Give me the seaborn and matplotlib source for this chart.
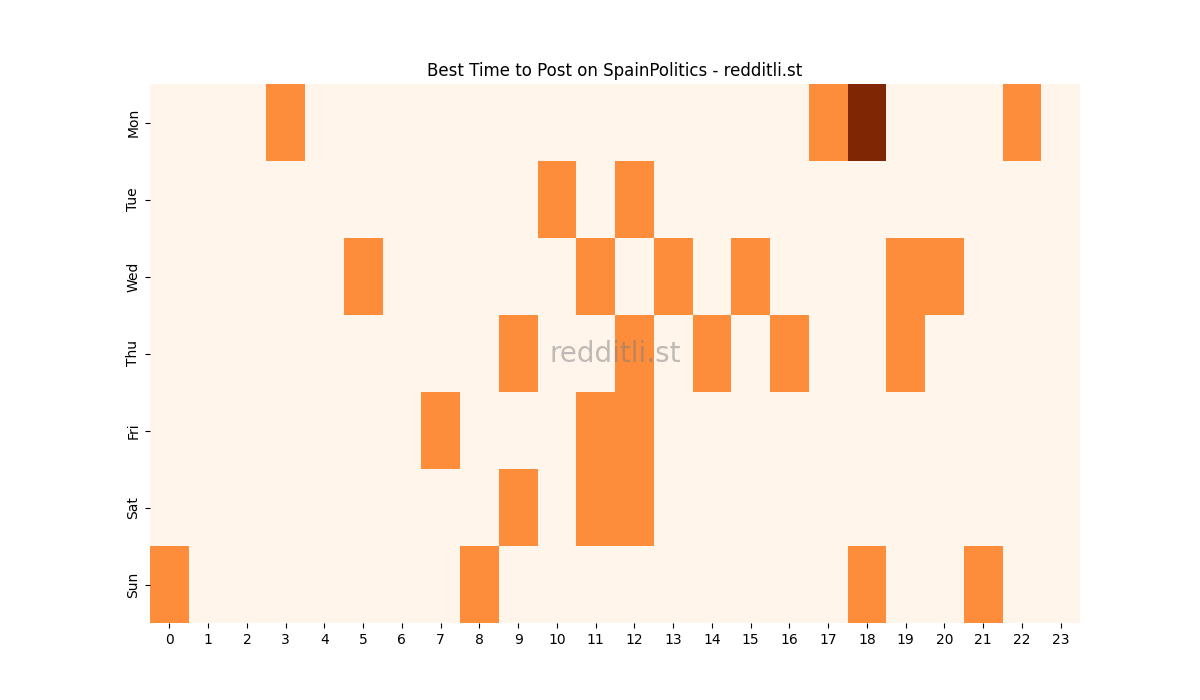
import numpy as np
import pandas as pd
import matplotlib
matplotlib.use("Agg")
import matplotlib.pyplot as plt
import seaborn as sns

days = ["Mon", "Tue", "Wed", "Thu", "Fri", "Sat", "Sun"]
hours = list(range(24))

# posts per (day, hour) cell
active = {
    "Mon": {3: 1, 17: 1, 18: 2, 22: 1},
    "Tue": {10: 1, 12: 1},
    "Wed": {5: 1, 11: 1, 13: 1, 15: 1, 19: 1, 20: 1},
    "Thu": {9: 1, 12: 1, 14: 1, 16: 1, 19: 1},
    "Fri": {7: 1, 11: 1, 12: 1},
    "Sat": {9: 1, 11: 1, 12: 1},
    "Sun": {0: 1, 8: 1, 18: 1, 21: 1},
}

grid = pd.DataFrame(0, index=days, columns=hours)
for d, cells in active.items():
    for h, v in cells.items():
        grid.loc[d, h] = v

fig, ax = plt.subplots(figsize=(12, 7), dpi=100)
sns.heatmap(grid, cmap="Oranges", cbar=False, ax=ax)
ax.set_title("Best Time to Post on SpainPolitics - redditli.st")
ax.text(0.5, 0.5, "redditli.st", transform=ax.transAxes, ha="center", va="center",
        fontsize=20, color="grey", alpha=0.5)
ax.tick_params(axis="x", rotation=0)
plt.savefig("out.png")
